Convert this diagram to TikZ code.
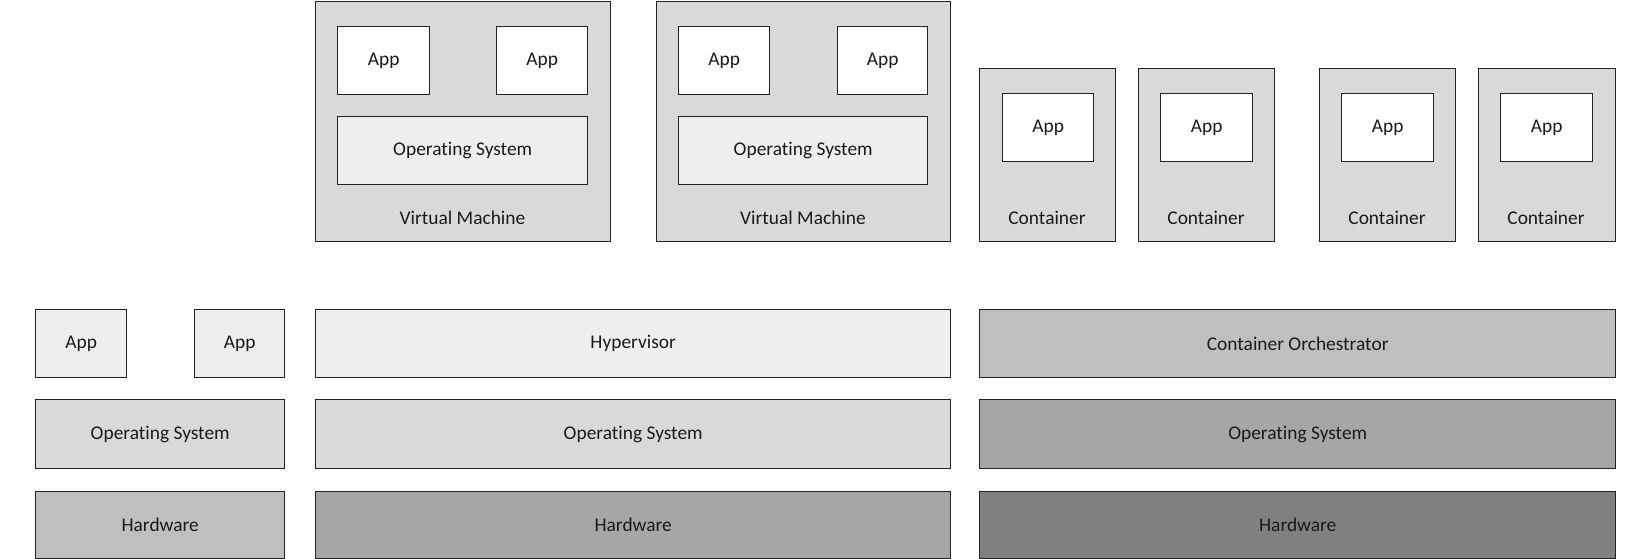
\documentclass[tikz,border=0pt]{standalone}
\usepackage{fontspec}
\setmainfont{Carlito}[Ligatures={NoCommon}]
\definecolor{stip}{HTML}{EEEEEE}
\definecolor{lgray}{HTML}{D9D9D9}
\definecolor{mgray}{HTML}{BFBFBF}
\definecolor{dgray}{HTML}{A6A6A6}
\definecolor{xgray}{HTML}{808080}
\definecolor{edge}{HTML}{222222}
\definecolor{txt}{HTML}{1A1A1A}
\begin{document}
\begin{tikzpicture}[x=1pt,y=-1pt,
  blk/.style={draw=edge,line width=1.4pt,inner sep=0pt,anchor=north west,
    font=\fontsize{19.4}{21}\selectfont,text=txt},
  lbl/.style={inner sep=0pt,font=\fontsize{19.4}{21}\selectfont,text=txt}]
\useasboundingbox (0,0) rectangle (1650,559);
% ---- left stack
\node[blk,fill=stip,minimum width=91pt,minimum height=68pt] (la1) at (35,309) {App};
\node[blk,fill=stip,minimum width=90pt,minimum height=68pt] (la2) at (194,309) {App};
\node[blk,fill=lgray,minimum width=249pt,minimum height=69pt] (los) at (35,399) {Operating System};
\node[blk,fill=mgray,minimum width=249pt,minimum height=67pt] (lhw) at (35,491) {Hardware};
% ---- middle stack
\node[blk,fill=stip,minimum width=635pt,minimum height=68pt] (hyp) at (315,309) {Hypervisor};
\node[blk,fill=lgray,minimum width=635pt,minimum height=69pt] (mos) at (315,399) {Operating System};
\node[blk,fill=dgray,minimum width=635pt,minimum height=67pt] (mhw) at (315,491) {Hardware};
% ---- right stack
\node[blk,fill=mgray,minimum width=636pt,minimum height=68pt] (orc) at (979,309) {Container Orchestrator};
\node[blk,fill=dgray,minimum width=636pt,minimum height=69pt] (ros) at (979,399) {Operating System};
\node[blk,fill=xgray,minimum width=636pt,minimum height=67pt] (rhw) at (979,491) {Hardware};
% ---- virtual machines
\node[blk,fill=lgray,minimum width=295pt,minimum height=240pt] (vm1) at (315,1) {};
\node[blk,fill=white,minimum width=92pt,minimum height=68pt] (vm1a1) at (337,26) {App};
\node[blk,fill=white,minimum width=91pt,minimum height=68pt] (vm1a2) at (496,26) {App};
\node[blk,fill=stip,minimum width=250pt,minimum height=68pt] (vm1os) at (337,116) {Operating System};
\node[lbl] (vm1l) at (462.5,218) {Virtual Machine};
\node[blk,fill=lgray,minimum width=294pt,minimum height=240pt] (vm2) at (656,1) {};
\node[blk,fill=white,minimum width=91pt,minimum height=68pt] (vm2a1) at (678,26) {App};
\node[blk,fill=white,minimum width=90pt,minimum height=68pt] (vm2a2) at (837,26) {App};
\node[blk,fill=stip,minimum width=249pt,minimum height=68pt] (vm2os) at (678,116) {Operating System};
\node[lbl] (vm2l) at (803,218) {Virtual Machine};
% ---- containers
\node[blk,fill=lgray,minimum width=136pt,minimum height=173pt] (c1) at (979,68) {};
\node[blk,fill=white,minimum width=91pt,minimum height=68pt] (c1a) at (1002,93) {App};
\node[lbl] (c1l) at (1047,218) {Container};
\node[blk,fill=lgray,minimum width=136pt,minimum height=173pt] (c2) at (1138,68) {};
\node[blk,fill=white,minimum width=92pt,minimum height=68pt] (c2a) at (1160,93) {App};
\node[lbl] (c2l) at (1206,218) {Container};
\node[blk,fill=lgray,minimum width=136pt,minimum height=173pt] (c3) at (1319,68) {};
\node[blk,fill=white,minimum width=92pt,minimum height=68pt] (c3a) at (1341,93) {App};
\node[lbl] (c3l) at (1387,218) {Container};
\node[blk,fill=lgray,minimum width=137pt,minimum height=173pt] (c4) at (1478,68) {};
\node[blk,fill=white,minimum width=92pt,minimum height=68pt] (c4a) at (1500,93) {App};
\node[lbl] (c4l) at (1546,218) {Container};
\end{tikzpicture}
\end{document}
